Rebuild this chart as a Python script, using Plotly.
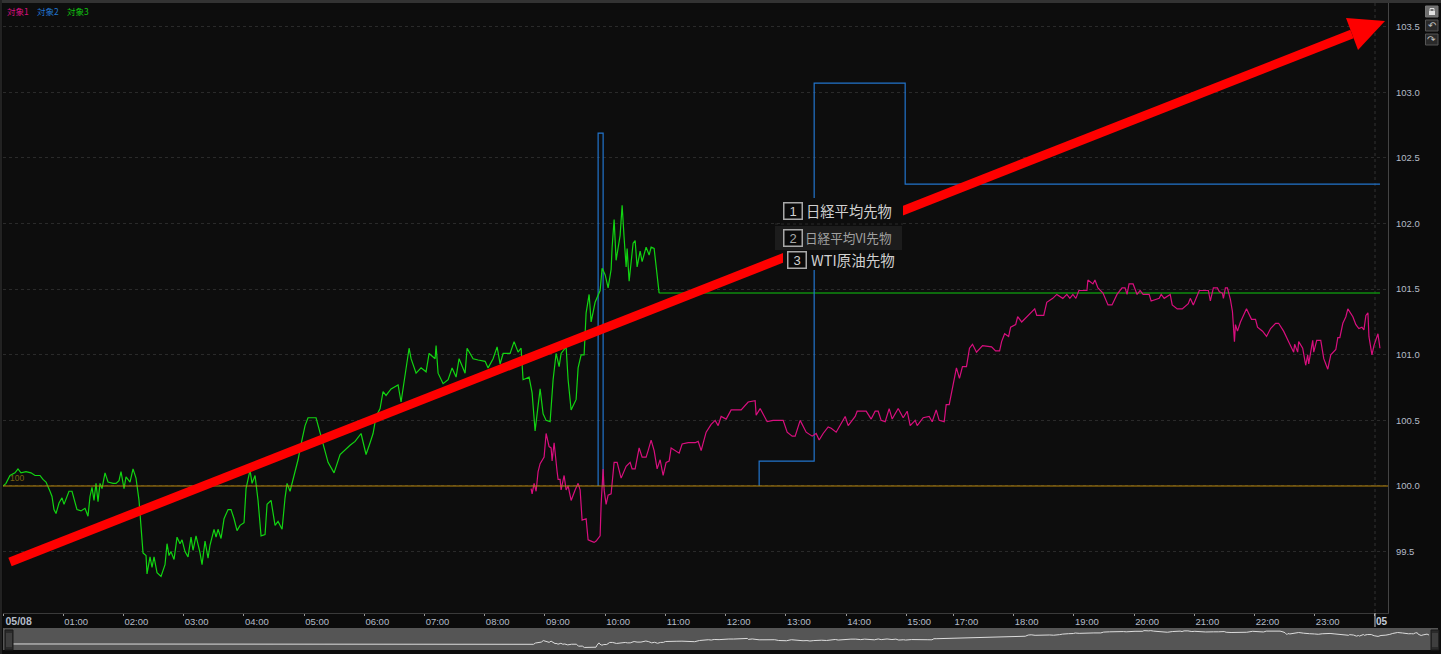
import datetime as dt
import plotly.graph_objects as go

# ---------- data (minutes since 05/08 00:00, index value) ----------
green_min = [0,3,7,12,15,18,23,28,32,37,40,43,47,49,51,53,56,59,61,64,66,69,72,74,78,82,85,87,89,91,93,95,97,99,102,105,110,113,116,118,121,123,127,130,133,136,138,140,143,144,147,149,151,154,158,162,164,166,168,171,174,177,179,182,185,188,190,193,197,199,202,205,207,211,213,215,218,221,225,228,231,234,237,241,243,247,249,252,255,258,262,264,268,272,275,279,282,284,287,292,295,298,302,305,313,319,325,331,337,347,352,
358,360,363,367,370,373,377,380,383,388,395,398,402,406,408,413,418,423,426,432,433,435,440,445,449,453,456,462,464,470,475,482,485,490,494,497,500,507,511,515,518,520,526,529,532,537,540,543,547,550,553,556,558,563,565,568,573,575,578,581,583,586,588,592,597,
599,602,605,608,609,611,613,617,619,621,623,624,626,630,632,634,637,639,641,643,646,648,651,654,656]
green_val = [100.00,100.02,100.08,100.10,100.13,100.10,100.11,100.10,100.08,100.08,100.05,100.03,99.96,99.92,99.82,99.79,99.87,99.91,99.86,99.92,99.96,99.96,99.87,99.82,99.81,99.83,99.77,99.92,99.99,99.89,100.02,99.88,100.02,99.98,100.10,100.03,100.02,100.02,100.04,100.11,99.98,100.07,100.03,100.13,100.06,99.89,99.69,99.49,99.47,99.33,99.46,99.38,99.46,99.34,99.31,99.40,99.56,99.47,99.50,99.44,99.61,99.56,99.59,99.50,99.46,99.61,99.51,99.62,99.49,99.40,99.58,99.45,99.55,99.67,99.61,99.67,99.60,99.75,99.82,99.82,99.75,99.66,99.70,99.72,99.98,100.12,100.02,100.08,99.89,99.62,99.63,99.86,99.89,99.70,99.73,99.67,99.91,100.02,99.96,100.10,100.20,100.32,100.46,100.52,100.52,100.35,100.18,100.10,100.24,100.31,100.34,
100.40,100.33,100.24,100.33,100.40,100.53,100.59,100.72,100.69,100.74,100.77,100.64,100.85,101.05,100.97,100.86,100.90,100.87,101.01,100.97,101.07,100.86,100.78,100.81,100.90,100.83,100.97,100.86,101.05,100.97,100.96,100.95,100.90,100.97,101.06,100.93,101.01,101.01,101.10,101.02,101.05,100.81,100.83,100.71,100.42,100.74,100.55,100.50,100.49,100.81,101.01,100.91,101.01,101.06,100.81,100.58,100.66,100.90,101.00,101.00,101.32,101.46,101.25,101.40,101.49,
101.66,101.61,101.51,101.65,101.82,102.03,101.72,101.91,102.14,101.89,101.67,101.81,101.56,101.85,101.87,101.67,101.79,101.71,101.77,101.82,101.76,101.82,101.81,101.63,101.47]
green_flat_min = [656, 1445]
green_flat_val = [101.47, 101.47]

blue_min = [595,595,600,600,None,756,756,811,811,902,902,1445]
blue_val = [100.00,102.69,102.69,100.00,None,100.00,100.19,100.19,103.07,103.07,102.30,102.30]

pink_min = [528,529,531,533,535,537,541,543,546,548,549,551,554,555,557,558,561,563,565,568,572,575,577,579,583,585,588,591,593,597,598,600,601,603,605,608,611,614,618,623,627,629,632,636,639,643,645,648,651,654,657,660,663,666,668,672,676,679,685,692,695,698,703,708,712,715,718,723,728,733,738,745,752,753,757,764,770,780,784,789,792,797,803,809,813,816,
820,825,828,833,840,842,845,852,854,858,863,868,872,875,878,882,886,889,895,900,904,907,912,914,920,926,929,933,936,941,943,946,
1021,1023,1026,1029,1033,1036,1039,1043,1049,1058,1062,1066,1068,1071,1075,1077,1082,1084,1088,1094,1101,1103,1110,1113,1119,1123,1129,1133,1136,1139,1142,1145,1153,1154,1159,1161,1164,1169,1174,1178,1183,1188,1191,1193,1195,1199,1203,1206,1209,1215,1217,1225,1227,1230,1236,1238,1243,1248,1254,1256,1259,1265,1274,1276,1279,1283,1285,1288,1289,1291,1293,1296,1298,1300,1301,1303,1306,1312,1317,1321,1323,1328,1332,1336,1341,1344,1349,1354,1359,1360,1363,1364,1368,1371,1373,1374,1378,1379,1382,1386,1389,1393,1396,1401,1403,1405,1408,1411,1413,1418,1421,1424,1427,1429,1431,1433,1434,1437,1439,1443,1445]
pink_val = [99.98,99.94,100.02,99.96,100.11,100.17,100.22,100.40,100.30,100.29,100.19,100.33,100.11,100.05,100.05,99.97,100.08,99.97,100.00,99.89,99.97,100.02,99.97,99.74,99.75,99.59,99.58,99.57,99.58,99.62,99.86,100.13,99.97,99.86,99.93,99.94,100.18,100.18,100.06,100.15,100.18,100.13,100.13,100.29,100.22,100.22,100.27,100.35,100.27,100.13,100.20,100.08,100.18,100.19,100.29,100.27,100.25,100.32,100.33,100.33,100.34,100.27,100.41,100.47,100.50,100.46,100.53,100.51,100.58,100.58,100.58,100.64,100.65,100.54,100.59,100.49,100.50,100.50,100.41,100.38,100.38,100.50,100.41,100.38,100.40,100.35,
100.40,100.45,100.44,100.41,100.50,100.53,100.46,100.53,100.57,100.57,100.57,100.51,100.57,100.57,100.50,100.49,100.59,100.51,100.59,100.52,100.57,100.46,100.50,100.46,100.52,100.53,100.49,100.58,100.50,100.49,100.62,100.62,
100.81,100.90,100.82,100.91,100.91,101.05,101.08,101.02,101.07,101.06,101.03,101.03,101.10,101.16,101.14,101.21,101.23,101.29,101.25,101.30,101.35,101.30,101.30,101.40,101.43,101.46,101.43,101.46,101.43,101.46,101.43,101.49,101.49,101.57,101.54,101.57,101.51,101.47,101.38,101.38,101.46,101.51,101.51,101.46,101.54,101.54,101.46,101.49,101.46,101.46,101.41,101.43,101.46,101.43,101.46,101.38,101.35,101.35,101.39,101.43,101.38,101.49,101.49,101.41,101.51,101.51,101.48,101.47,101.43,101.51,101.51,101.42,101.33,101.10,101.23,101.18,101.25,101.35,101.27,101.27,101.21,101.18,101.14,101.20,101.24,101.24,101.18,101.10,101.02,101.08,101.02,101.10,101.05,100.92,101.00,100.93,101.11,101.02,101.11,101.11,100.97,100.89,101.00,101.04,101.13,101.13,101.24,101.29,101.35,101.29,101.23,101.20,101.21,101.19,101.30,101.32,101.14,101.00,101.07,101.16,101.05]

legend_names = ["対象1", "対象2", "対象3"]
label_names = ["日経平均先物", "日経平均VI先物", "WTI原油先物"]
y_ticks = [99.5, 100.0, 100.5, 101.0, 101.5, 102.0, 102.5, 103.0, 103.5]
x_tick_hours = [0,1,2,3,4,5,6,7,8,9,10,11,12,13,14,15,17,18,19,20,21,22,23,24]
x_tick_text = ["&nbsp;&nbsp;<span style='font-size:10.5px'><b>05/08</b></span>","01:00","02:00","03:00","04:00","05:00","06:00","07:00","08:00","09:00","10:00","11:00","12:00","13:00","14:00","15:00","17:00","18:00","19:00","20:00","21:00","22:00","23:00",""]
next_day_label = "05"

# ---------- helpers ----------
W, H = 1441, 654
BASE = dt.datetime(2023, 5, 8)
READ_CAL = 0.9966   # times before the 15:47 break were read at 1 px = 1 min; the axis runs 1.0034 px/min
def T(m):
    return None if m is None else (BASE + dt.timedelta(minutes=m)).strftime("%Y-%m-%d %H:%M:%S")
def Ts(ms):
    return [None if m is None else T(m * READ_CAL if m < 947 else m) for m in ms]
def px(x): return x / W
def py(y): return 1 - y / H

PINK, BLUE, GREEN = "#d80f7e", "#2274cc", "#12d412"
BG = "#0d0d0d"
JP = "Noto Sans CJK JP"
BREAKS = [dict(bounds=[T(947), T(1020)])]

fig = go.Figure()
fig.add_trace(go.Scatter(x=Ts(green_flat_min), y=green_flat_val, mode="lines", line=dict(color="#0e8a0e", width=1.5), hoverinfo="skip"))
fig.add_trace(go.Scatter(x=Ts(blue_min), y=blue_val, mode="lines", line=dict(color=BLUE, width=1.2), hoverinfo="skip"))
fig.add_trace(go.Scatter(x=Ts(green_min), y=green_val, mode="lines", line=dict(color=GREEN, width=1.2), hoverinfo="skip"))
fig.add_trace(go.Scatter(x=Ts(pink_min), y=pink_val, mode="lines", line=dict(color=PINK, width=1.2), hoverinfo="skip"))
# overview strip: object 1, flat at 100 before it starts
fig.add_trace(go.Scatter(x=Ts([0, 528] + pink_min), y=[100, 100] + pink_val, mode="lines",
                         line=dict(color="#dcdcdc", width=1), xaxis="x2", yaxis="y2", hoverinfo="skip"))

shapes = []
def rect(x0, y0, x1, y1, fill, layer="above", line=None):
    shapes.append(dict(type="rect", xref="paper", yref="paper", x0=px(x0), x1=px(x1), y0=py(y1), y1=py(y0),
                       fillcolor=fill, line=dict(width=1 if line else 0, color=line or fill), layer=layer))
def seg(x0, y0, x1, y1, color, width=1, dash="solid", layer="above"):
    shapes.append(dict(type="line", xref="paper", yref="paper", x0=px(x0), x1=px(x1), y0=py(y0), y1=py(y1),
                       line=dict(color=color, width=width, dash=dash), layer=layer))

# frame, bands
rect(0, 0, W, 3, "#333333", "below")
rect(0, 0, 2, H, "#222222", "below")
rect(3, 628, 1438, 650, "#555555", "below")
seg(3, 486, 1388, 486, "#b8860b", 1)                 # 100 reference
seg(1375, 3, 1375, 613, "#333333", 1, "dot", "below")
seg(1375, 613, 1375, 627, "#c8c8c8", 1)
# navigator handles
for x0 in (5, 1431):
    rect(x0, 630, x0 + 8, 650, "#2b2b2b", "above", "#1a1a1a")
    for k in (2, 4, 6):
        seg(x0 + k, 633, x0 + k, 647, "#555555", 1)
# arrow
seg(10, 562, 1352, 34, "#fe0000", 9)
shapes.append(dict(type="path", xref="paper", yref="paper", layer="above", fillcolor="#fe0000", line=dict(width=0),
                   path=f"M {px(1346)} {py(18)} L {px(1385)} {py(21)} L {px(1358)} {py(50)} Z"))
# label mask
rect(783, 198, 903, 270, BG)
rect(775, 226, 902, 250, "#1c1c1c")
seg(775, 224, 903, 224, "#2a2a2a", 1, "dot")
# right-hand buttons
rect(1425.5, 6, 1438, 17, "#6e6e6e", "above", "#777777")
rect(1425.5, 20, 1438, 31, "#2a2a2a", "above", "#555555")
rect(1425.5, 34, 1438, 45, "#2a2a2a", "above", "#555555")
rect(1429, 11, 1435, 15, "#e0e0e0")
shapes.append(dict(type="path", xref="paper", yref="paper", layer="above", line=dict(color="#e0e0e0", width=1),
                   path=f"M {px(1430)} {py(11)} L {px(1430)} {py(8.5)} L {px(1434)} {py(8.5)} L {px(1434)} {py(11)}"))

ann = []
def text(x, y, s, color, size, anchor="left", family=JP, **kw):
    ann.append(dict(xref="paper", yref="paper", x=px(x), y=py(y), text=s, showarrow=False, xanchor=anchor, yanchor="middle",
                    font=dict(color=color, size=size, family=family), **kw))

for x, name, c in zip((5, 35, 65), legend_names, (PINK, BLUE, "#10c010")):
    text(x, 11, name, c, 8.5)
text(8, 478, "100", "#7a6210", 8.5, family="Liberation Sans")
def box(x0, x1, y, s, color):
    text((x0 + x1) / 2, y, s, color, 13, "center", "Liberation Sans", bordercolor="#a8a8a8", borderwidth=1.5,
         width=x1 - x0 - 4, height=13, borderpad=1, bgcolor="#0a0a0a")
box(783, 802, 210.5, "1", "#d0d0d0")
box(783, 802, 237.5, "2", "#a8a8a8")
box(787.5, 806.5, 259.5, "3", "#d0d0d0")
text(804.5, 210.5, label_names[0], "#d0d0d0", 14.3)
text(802.5, 237.5, label_names[1], "#a0a0a0", 12.6)
text(808.5, 259, label_names[2], "#d0d0d0", 14.5)
text(1382, 621, "<b>" + next_day_label + "</b>", "#c4ccd8", 10, "center", "Liberation Sans")
text(1431.7, 25.5, "↶", "#c0c0c0", 10, "center", "DejaVu Sans")
text(1431.7, 39.5, "↷", "#c0c0c0", 10, "center", "DejaVu Sans")

fig.update_layout(
    width=W, height=H, margin=dict(l=0, r=0, t=0, b=0, pad=0, autoexpand=False), autosize=False,
    paper_bgcolor="#0b0b0b", plot_bgcolor=BG, showlegend=False, shapes=shapes, annotations=ann,
    xaxis=dict(domain=[px(3), px(1388)], type="date", range=[T(0), T(1453)], rangebreaks=BREAKS,
               tickmode="array", tickvals=[T(h * 60) for h in x_tick_hours], ticktext=x_tick_text,
               ticks="outside", ticklen=2, tickcolor="#999999", tickwidth=1, ticklabelshift=13, ticklabelstandoff=-2,
               tickangle=0, showgrid=False, zeroline=False, showline=True, linecolor="#3a3a3a", linewidth=1,
               tickfont=dict(color="#b4bcc8", size=9.5, family="Liberation Sans"), anchor="y", fixedrange=True),
    yaxis=dict(domain=[py(613), py(3)], range=[99.032, 103.681], side="right", anchor="x",
               tickmode="array", tickvals=y_ticks, ticktext=[f"{v:.1f}" for v in y_ticks],
               showgrid=True, gridcolor="#2a2a2a", griddash="dot", gridwidth=1, zeroline=False,
               showline=True, linecolor="#444444", linewidth=1, ticks="", ticklabelstandoff=5,
               tickfont=dict(color="#b4bcc8", size=9.5, family="Liberation Sans"), fixedrange=True),
    xaxis2=dict(domain=[px(13), px(1430)], type="date", range=[T(0), T(1446)], rangebreaks=BREAKS, visible=False,
                anchor="y2", fixedrange=True),
    yaxis2=dict(domain=[py(650), py(628)], range=[99.29, 101.88], visible=False, anchor="x2", fixedrange=True),
)

fig.write_html("out.html", config=dict(displayModeBar=False),
               post_script="document.body.style.margin='0';document.body.style.overflow='hidden';document.body.style.background='#0b0b0b';")
